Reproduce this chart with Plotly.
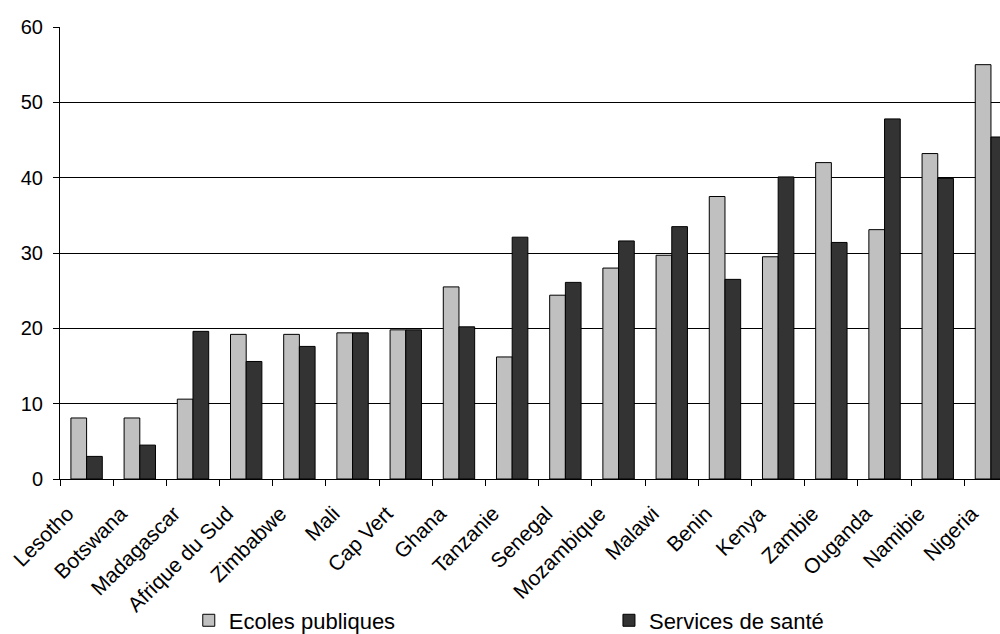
import plotly.graph_objects as go

countries = ["Lesotho", "Botswana", "Madagascar", "Afrique du Sud", "Zimbabwe", "Mali",
             "Cap Vert", "Ghana", "Tanzanie", "Senegal", "Mozambique", "Malawi", "Benin",
             "Kenya", "Zambie", "Ouganda", "Namibie", "Nigeria"]
ecoles = [8.1, 8.1, 10.6, 19.2, 19.2, 19.4, 19.8, 25.5, 16.2, 24.4, 28.0, 29.7, 37.5,
          29.5, 42.0, 33.1, 43.2, 55.0]
sante = [3.0, 4.5, 19.6, 15.6, 17.6, 19.4, 19.8, 20.2, 32.1, 26.1, 31.6, 33.5, 26.5,
         40.1, 31.4, 47.8, 39.9, 45.4]

fig = go.Figure()
fig.add_trace(go.Bar(x=countries, y=ecoles, name="Ecoles publiques", legend="legend",
                     marker=dict(color="#C0C0C0", line=dict(color="black", width=1))))
fig.add_trace(go.Bar(x=countries, y=sante, name="Services de santé", legend="legend2",
                     marker=dict(color="#333333", line=dict(color="black", width=1))))

leg_common = dict(xanchor="left", yanchor="middle", y=-0.313, font=dict(size=22),
                  bgcolor="rgba(0,0,0,0)", borderwidth=0, itemwidth=30)

fig.update_layout(
    width=1000, height=634,
    margin=dict(l=60, r=0, t=27, b=155, autoexpand=False),
    paper_bgcolor="white", plot_bgcolor="white",
    font=dict(family="Liberation Sans, Arial, sans-serif", size=20, color="black"),
    barmode="group", bargap=0.41, bargroupgap=0,
    showlegend=True,
    legend=dict(x=0.137, **leg_common),
    legend2=dict(x=0.584, **leg_common),
)
fig.update_xaxes(range=[-0.5, 17.17], tickangle=-45, tickson="boundaries",
                 ticks="outside", ticklen=6, tickcolor="black",
                 showline=True, linecolor="black", linewidth=1,
                 tickfont=dict(size=21), showgrid=False, automargin=False,
                 ticklabelshift=-19, ticklabelstandoff=13)
fig.update_yaxes(range=[0, 60], dtick=10, showgrid=True, gridcolor="black", gridwidth=1,
                 showline=True, linecolor="black", linewidth=1, ticks="outside", ticklen=6,
                 tickcolor="black", zeroline=False, tickfont=dict(size=20),
                 ticklabelstandoff=6, automargin=False)

fig.write_html("out.html")
